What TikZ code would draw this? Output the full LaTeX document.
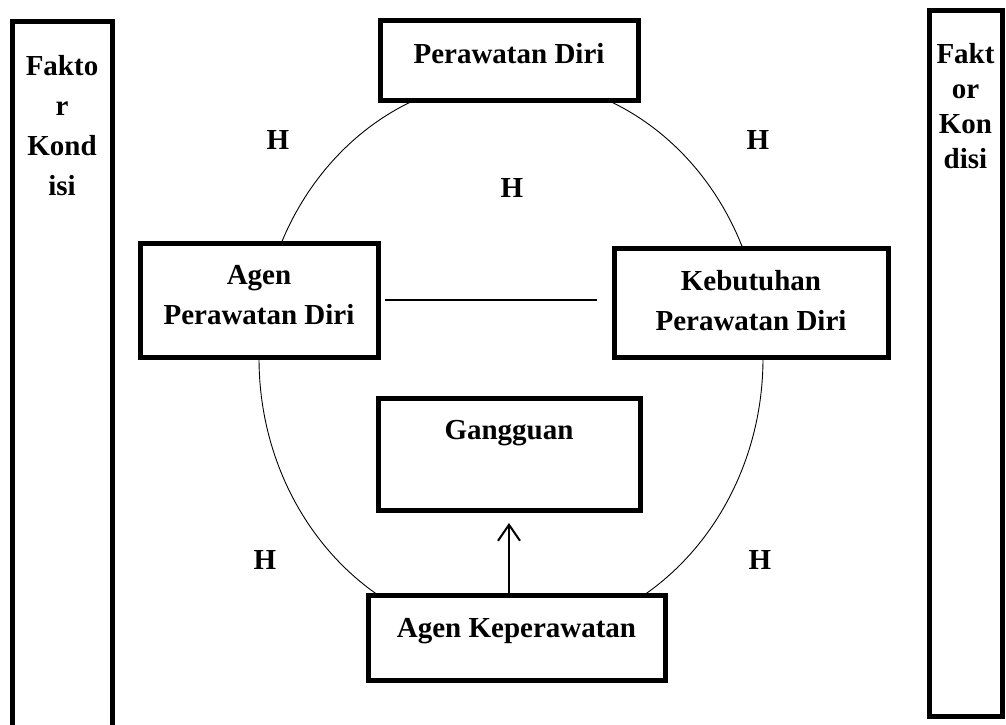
\documentclass[tikz,border=0pt]{standalone}
\usepackage{fontspec}
\setmainfont{Liberation Serif}
\usetikzlibrary{arrows.meta}
\newcommand{\bxt}[4]{\parbox[c][#2pt][t]{#1pt}{\centering\vspace*{#3pt}#4\par}}
\begin{document}
\begin{tikzpicture}[x=1pt,y=-1pt,
  box/.style={draw, line width=5pt, fill=white, inner sep=0pt, font=\fontsize{29}{40}\selectfont\bfseries},
  hlab/.style={font=\fontsize{29}{40}\selectfont\bfseries, inner sep=0pt},
  link/.style={line width=1.2pt},
  cycle/.style={line width=0.9pt},
  uparrow/.style={line width=2pt, -{Straight Barb[length=16pt,width=22pt,line width=2pt]}}]
\fill[white] (0,0) rectangle (1006,725);
\useasboundingbox (0,0) rectangle (1006,725);
\draw[cycle] (511,358) ellipse [x radius=252, y radius=279];
\node[box] (pd) at (509,60.5) {\bxt{258}{79}{22}{Perawatan Diri}};
\node[box] (ap) at (259,300) {\bxt{238}{114}{22}{Agen\\Perawatan Diri}};
\node[box] (kp) at (751,302.5) {\bxt{274}{109}{22}{Kebutuhan\\Perawatan Diri}};
\node[box] (gg) at (509,454) {\bxt{262}{112}{22}{Gangguan}};
\node[box] (ak) at (516.5,637.5) {\bxt{297}{85}{23}{Agen Keperawatan}};
\node[box] (fl) at (62,377) {\bxt{100}{710}{33}{Fakto\\r\\Kond\\isi}};
\node[box] (fr) at (965.5,363.5) {\bxt{73}{705}{32}{\baselineskip=35pt Fakt\\or\\Kon\\disi}};
\draw[link, shorten <=4.5pt, shorten >=14.5pt] (ap.east) -- (ap.east -| kp.west);
\draw[uparrow, shorten >=10.5pt] (ak.north -| gg.south) -- (gg.south);
\node[hlab] (h1) at (278,140) {H};
\node[hlab] (h2) at (758,140) {H};
\node[hlab] (h3) at (512,188) {H};
\node[hlab] (h4) at (265,560) {H};
\node[hlab] (h5) at (760,560) {H};
\end{tikzpicture}
\end{document}
